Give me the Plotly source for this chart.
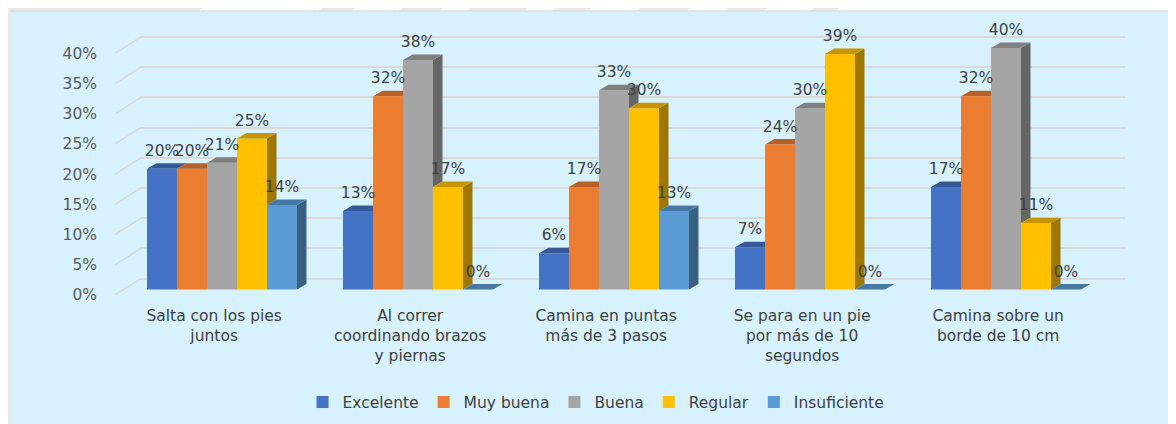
import plotly.graph_objects as go

# categories (x axis) and series values in percent
categorias = [
    "Salta con los pies<br>juntos",
    "Al correr<br>coordinando brazos<br>y piernas",
    "Camina en puntas<br>más de 3 pasos",
    "Se para en un pie<br>por más de 10<br>segundos",
    "Camina sobre un<br>borde de 10 cm",
]
series = ["Excelente", "Muy buena", "Buena", "Regular", "Insuficiente"]
excelente = [20, 13, 6, 7, 17]
muy_buena = [20, 32, 17, 24, 32]
buena = [21, 38, 33, 30, 40]
regular = [25, 17, 30, 39, 11]
insuficiente = [14, 0, 13, 0, 0]
y_ticks = [0, 5, 10, 15, 20, 25, 30, 35, 40]

valores = [excelente, muy_buena, buena, regular, insuficiente]
colores = ["#4472C4", "#ED7D31", "#A5A5A5", "#FFC000", "#5B9BD5"]


def oscuro(hexc, f):
    r, g, b = int(hexc[1:3], 16), int(hexc[3:5], 16), int(hexc[5:7], 16)
    return "rgb(%d,%d,%d)" % (r * f, g * f, b * f)


# page geometry (the page body adds an 8px margin around the figure)
OFF = 8
ANCHO, ALTO = 1176 - OFF, 424 - OFF
px_grupo = 196.0
px_pct = 6.05
bajada = 0.9               # tick labels sit a little below the front edge
PISO = 290                 # page y of the bars' floor
L, R, T = 140, 1125, 20
B = PISO + bajada * px_pct
W, H = R - L, B - T
x0 = -(222 - L) / px_grupo
x1 = (R - 222) / px_grupo
ymax = (PISO - T) / px_pct
w = 30 / px_grupo          # bar width
dx = 9.5 / px_grupo        # 3d depth
dy = 5.5 / px_pct
fondo = 11 / px_pct        # back wall offset


def xp(px):
    return (px - L) / W


def yp(py):
    return (B - py) / H


fig = go.Figure()
pos = list(range(len(categorias)))

# front faces
for i, nombre in enumerate(series):
    fig.add_trace(go.Bar(
        x=pos, y=valores[i], name=nombre, offset=(i - 2.5) * w, width=w,
        marker=dict(color=colores[i], line=dict(width=0)),
        hoverinfo="skip",
    ))

# side and top faces (drawn series by series so later bars cover earlier)
for i in range(len(series)):
    sx, sy, tx, ty = [], [], [], []
    for g in pos:
        h = valores[i][g]
        n = valores[i + 1][g] if i < len(series) - 1 else 0
        l = g + (i - 2.5) * w
        r = l + w
        if h > n:
            sx += [r, r, r + dx, r + dx, r, None]
            sy += [n, h, h + dy, n + dy, n, None]
        if n >= h + dy:
            tx += [l, r, r, l + dx, l, None]
            ty += [h, h, h + dy, h + dy, h, None]
        elif n > h:
            k = (n - h) / dy
            tx += [l, r, r, r + dx * k, r + dx, l + dx, l, None]
            ty += [h, h, n, n, h + dy, h + dy, h, None]
        else:
            tx += [l, r, r + dx, l + dx, l, None]
            ty += [h, h, h + dy, h + dy, h, None]
    if sx:
        fig.add_trace(go.Scatter(x=sx, y=sy, fill="toself", mode="lines",
                                 fillcolor=oscuro(colores[i], 0.62),
                                 line=dict(width=0), showlegend=False, hoverinfo="skip"))
    fig.add_trace(go.Scatter(x=tx, y=ty, fill="toself", mode="lines",
                             fillcolor=oscuro(colores[i], 0.78),
                             line=dict(width=0), showlegend=False, hoverinfo="skip"))

# data labels
for i in range(len(series)):
    fig.add_trace(go.Scatter(
        x=[g + (i - 2) * w for g in pos], y=[v + dy + 0.6 for v in valores[i]],
        mode="text", text=["%d%%" % v for v in valores[i]],
        textposition="top center", cliponaxis=False,
        textfont=dict(family="DejaVu Sans", size=15.5, color="#404040"),
        showlegend=False, hoverinfo="skip",
    ))

# back wall gridlines on an overlaid axis shifted upward
fig.add_trace(go.Scatter(x=[x0], y=[0], yaxis="y2", mode="markers",
                         marker=dict(opacity=0), showlegend=False, hoverinfo="skip"))

shapes = []
# diagonal floor lines from the tick labels to the back wall
for v in y_ticks:
    shapes.append(dict(type="line", xref="paper", yref="y", x0=xp(115), x1=xp(141),
                       y0=v - bajada, y1=v + fondo, line=dict(color="#D9D9D9", width=1.5)))

# frame decorations around the light-blue chart area
gris = "#EDE8E8"
shapes.append(dict(type="rect", xref="paper", yref="paper", x0=xp(0), x1=xp(1176),
                   y0=yp(11), y1=yp(0), fillcolor="white", line=dict(width=0), layer="below"))
shapes.append(dict(type="rect", xref="paper", yref="paper", x0=xp(0), x1=xp(10),
                   y0=yp(424), y1=yp(11), fillcolor=gris, line=dict(width=0), layer="below"))
franjas = [(0, 199), (318, 352), (398, 440), (467, 525), (552, 588), (637, 687), (725, 764), (810, 836)]
for a, b in franjas:
    ta = a + 12 if a > 0 else 0
    path = "M %f %f L %f %f L %f %f L %f %f Z" % (
        xp(a), yp(11), xp(b), yp(11), xp(b + 12), yp(0), xp(ta), yp(0))
    shapes.append(dict(type="path", xref="paper", yref="paper", path=path,
                       fillcolor=gris, line=dict(width=0), layer="below"))
shapes.append(dict(type="line", xref="paper", yref="paper", x0=xp(10), x1=xp(1176),
                   y0=yp(11), y1=yp(11), line=dict(color="#D5D5D5", width=1)))

fig.update_layout(
    width=ANCHO, height=ALTO,
    margin=dict(l=L - OFF, r=ANCHO - (R - OFF), t=T - OFF, b=ALTO - (B - OFF),
                autoexpand=False),
    paper_bgcolor="#D7F2FC", plot_bgcolor="rgba(0,0,0,0)",
    barmode="overlay",
    font=dict(family="DejaVu Sans", size=16, color="#404040"),
    showlegend=True,
    legend=dict(orientation="h", x=0.463, xanchor="center", y=yp(403), yanchor="middle",
                font=dict(size=15.5, color="#404040"), bgcolor="rgba(0,0,0,0)"),
    xaxis=dict(range=[x0, x1], tickvals=[g - 0.04 for g in pos], ticktext=categorias,
               showgrid=False, zeroline=False, showline=False, ticks="", automargin=False,
               tickfont=dict(size=15.5, color="#404040"), ticklabelstandoff=9),
    yaxis=dict(range=[-bajada, ymax], tickvals=[v - bajada for v in y_ticks],
               ticktext=["%d%%" % v for v in y_ticks],
               showgrid=False, zeroline=False, showline=False, ticks="", automargin=False,
               tickfont=dict(size=15.5, color="#595959"), ticklabelstandoff=42),
    yaxis2=dict(range=[-bajada - fondo, ymax - fondo], overlaying="y", side="left",
                tickvals=y_ticks, showticklabels=False, showgrid=True, automargin=False,
                gridcolor="#D9D9D9", gridwidth=1.5, zeroline=False, showline=False),
    shapes=shapes,
)

fig.write_html("out.html")
